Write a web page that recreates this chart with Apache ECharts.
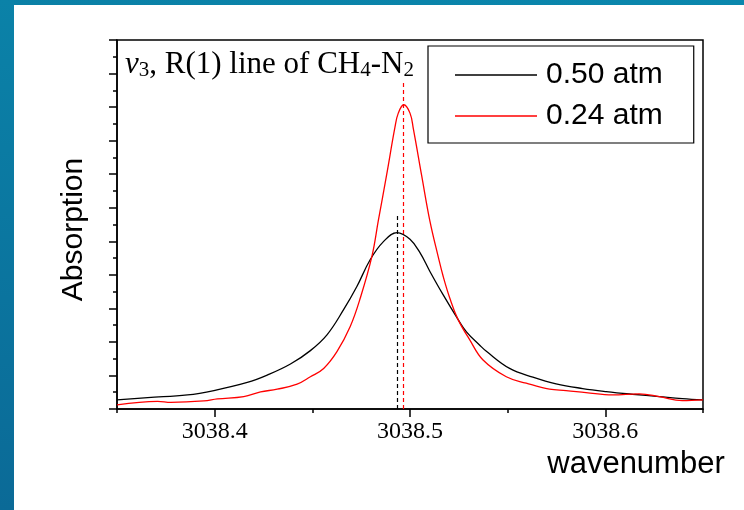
<!DOCTYPE html>
<html>
<head>
<meta charset="utf-8">
<script src="https://cdn.jsdelivr.net/npm/echarts@6/dist/echarts.min.js"></script>
<style>
  html, body { margin: 0; padding: 0; background: #ffffff; }
  #chart { width: 744px; height: 510px; }
</style>
</head>
<body>
<div id="chart"></div>
<script>
// Absorption profile of the CH4 ν3 R(1) line broadened by N2, at two pressures
const seriesNames = ['0.50 atm', '0.24 atm'];

const wave050 = [3038.3500, 3038.3657, 3038.3861, 3038.3996, 3038.4167, 3038.4269, 3038.4388,
  3038.4490, 3038.4575, 3038.4660, 3038.4728, 3038.4796, 3038.4864, 3038.4934, 3038.5000,
  3038.5051, 3038.5102, 3038.5170, 3038.5245, 3038.5289, 3038.5357, 3038.5391, 3038.5510,
  3038.5629, 3038.5748, 3038.5884, 3038.6004, 3038.6139, 3038.6276, 3038.6394, 3038.6500];
const abs050 = [0.27, 0.34, 0.42, 0.55, 0.79, 1.01, 1.34,
  1.74, 2.21, 2.96, 3.65, 4.45, 4.99, 5.26, 5.06,
  4.66, 4.10, 3.40, 2.68, 2.30, 1.90, 1.72, 1.21,
  0.95, 0.75, 0.61, 0.52, 0.44, 0.37, 0.31, 0.27];

const wave024 = [3038.3500, 3038.3708, 3038.3776, 3038.3945, 3038.4014, 3038.4149, 3038.4235,
  3038.4320, 3038.4422, 3038.4490, 3038.4558, 3038.4626, 3038.4694, 3038.4745, 3038.4805,
  3038.4838, 3038.4881, 3038.4923, 3038.4940, 3038.4968, 3038.5000, 3038.5017, 3038.5060,
  3038.5102, 3038.5144, 3038.5170, 3038.5204, 3038.5245, 3038.5306, 3038.5374, 3038.5493,
  3038.5595, 3038.5714, 3038.5799, 3038.5901, 3038.6037, 3038.6173, 3038.6276, 3038.6394,
  3038.6500];
const abs024 = [0.12, 0.23, 0.20, 0.24, 0.30, 0.37, 0.51,
  0.59, 0.74, 0.96, 1.21, 1.71, 2.46, 3.30, 4.55,
  5.62, 7.00, 8.40, 8.82, 9.07, 8.82, 8.36, 6.95,
  5.60, 4.55, 3.95, 3.30, 2.68, 2.06, 1.46, 0.96,
  0.77, 0.59, 0.55, 0.49, 0.42, 0.45, 0.37, 0.25,
  0.27];

// line centres and the heights of the dashed centre markers
const lineCenters = [3038.4935, 3038.4966];
const centerMarkTops = [5.8, 9.8];

const xTickValues = [3038.4, 3038.5, 3038.6];
const xRange = [3038.35, 3038.65];
const yRange = [0, 11];

const seriesColors = ['#000000', '#ff0000'];

function pairs(xs, ys) {
  return xs.map(function (x, i) { return [x, ys[i]]; });
}

function centerMark(i) {
  return {
    symbol: 'none',
    silent: true,
    animation: false,
    label: { show: false },
    lineStyle: { type: [4, 3], color: seriesColors[i], width: 1.2 },
    data: [[{ coord: [lineCenters[i], 0] }, { coord: [lineCenters[i], centerMarkTops[i]] }]]
  };
}

const chart = echarts.init(document.getElementById('chart'), null, { renderer: 'canvas' });

const serif = 'Liberation Serif';
const sans = 'Liberation Sans';

chart.setOption({
  animation: false,
  backgroundColor: '#ffffff',
  graphic: [
    {
      type: 'rect', z: -10, silent: true,
      shape: { x: 0, y: 0, width: 744, height: 5 },
      style: { fill: new echarts.graphic.LinearGradient(0, 0, 1, 0, [
        { offset: 0, color: '#0b80a6' }, { offset: 1, color: '#0a87ad' }]) }
    },
    {
      type: 'rect', z: -10, silent: true,
      shape: { x: 0, y: 0, width: 14, height: 510 },
      style: { fill: new echarts.graphic.LinearGradient(0, 0, 0, 1, [
        { offset: 0, color: '#0b82a8' }, { offset: 1, color: '#0b6a97' }]) }
    }
  ],
  title: {
    left: 125,
    top: 49,
    padding: 0,
    text: '{g|ν}{s|3}{n|, R(1) line of CH}{s|4}{n|-N}{s|2}',
    textStyle: {
      fontWeight: 'normal',
      rich: {
        g: { fontFamily: serif, fontSize: 31, fontStyle: 'italic', fontWeight: 'normal', color: '#000', lineHeight: 32, verticalAlign: 'top' },
        n: { fontFamily: serif, fontSize: 31, fontWeight: 'normal', color: '#000', lineHeight: 32, verticalAlign: 'top' },
        s: { fontFamily: serif, fontSize: 21, fontWeight: 'normal', color: '#000', lineHeight: 12, verticalAlign: 'bottom' }
      }
    }
  },
  legend: {
    left: 428,
    top: 46,
    orient: 'vertical',
    padding: [14, 31, 12, 27],
    itemGap: 11,
    itemWidth: 82,
    itemHeight: 1.3,
    icon: 'rect',
    borderColor: '#000',
    borderWidth: 1.2,
    textStyle: { fontFamily: sans, fontSize: 30, color: '#000', lineHeight: 30, padding: [0, 0, 0, 4] },
    data: seriesNames
  },
  grid: {
    left: 117, right: 41, top: 40, bottom: 101,
    outerBoundsMode: 'none',
    containLabel: false,
    show: true, borderColor: '#000', borderWidth: 1.5, backgroundColor: 'transparent'
  },
  xAxis: [
    {
      type: 'value',
      min: xRange[0], max: xRange[1],
      position: 'bottom',
      name: 'wavenumber',
      nameLocation: 'middle',
      nameGap: 31,
      nameTextStyle: { fontFamily: sans, fontSize: 31, color: '#000', lineHeight: 32, padding: [0, 0, 0, 452] },
      axisLine: { show: true, lineStyle: { color: '#000', width: 1.5 } },
      axisTick: { show: true, length: 8, customValues: xTickValues, lineStyle: { color: '#000', width: 1.5 } },
      axisLabel: { show: true, customValues: xTickValues, margin: 11, fontFamily: serif, fontSize: 24, color: '#000',
        formatter: function (v) { return v.toFixed(1); } },
      splitLine: { show: false }
    },
    {
      type: 'value',
      min: xRange[0], max: xRange[1], interval: 0.05,
      position: 'bottom',
      axisLine: { show: false },
      axisTick: { show: true, length: 4, lineStyle: { color: '#000', width: 1.5 } },
      axisLabel: { show: false },
      splitLine: { show: false }
    }
  ],
  yAxis: {
    type: 'value',
    min: yRange[0], max: yRange[1], interval: 1,
    name: 'Absorption',
    nameLocation: 'middle',
    nameGap: 28,
    nameTextStyle: { fontFamily: sans, fontSize: 30, color: '#000', padding: [0, 10, 0, 0] },
    axisLine: { show: true, lineStyle: { color: '#000', width: 1.5 } },
    axisTick: { show: true, length: 8, lineStyle: { color: '#000', width: 1.5 } },
    minorTick: { show: true, splitNumber: 2, length: 4, lineStyle: { color: '#000', width: 1.5 } },
    axisLabel: { show: false },
    splitLine: { show: false }
  },
  series: [
    {
      name: seriesNames[0], type: 'line', xAxisIndex: 0,
      data: pairs(wave050, abs050),
      smooth: 0.4, symbol: 'none',
      lineStyle: { color: seriesColors[0], width: 1.3 },
      itemStyle: { color: seriesColors[0] },
      markLine: centerMark(0)
    },
    {
      name: seriesNames[1], type: 'line', xAxisIndex: 0,
      data: pairs(wave024, abs024),
      smooth: 0.4, symbol: 'none',
      lineStyle: { color: seriesColors[1], width: 1.3 },
      itemStyle: { color: seriesColors[1] },
      markLine: centerMark(1)
    }
  ]
});
</script>
</body>
</html>
